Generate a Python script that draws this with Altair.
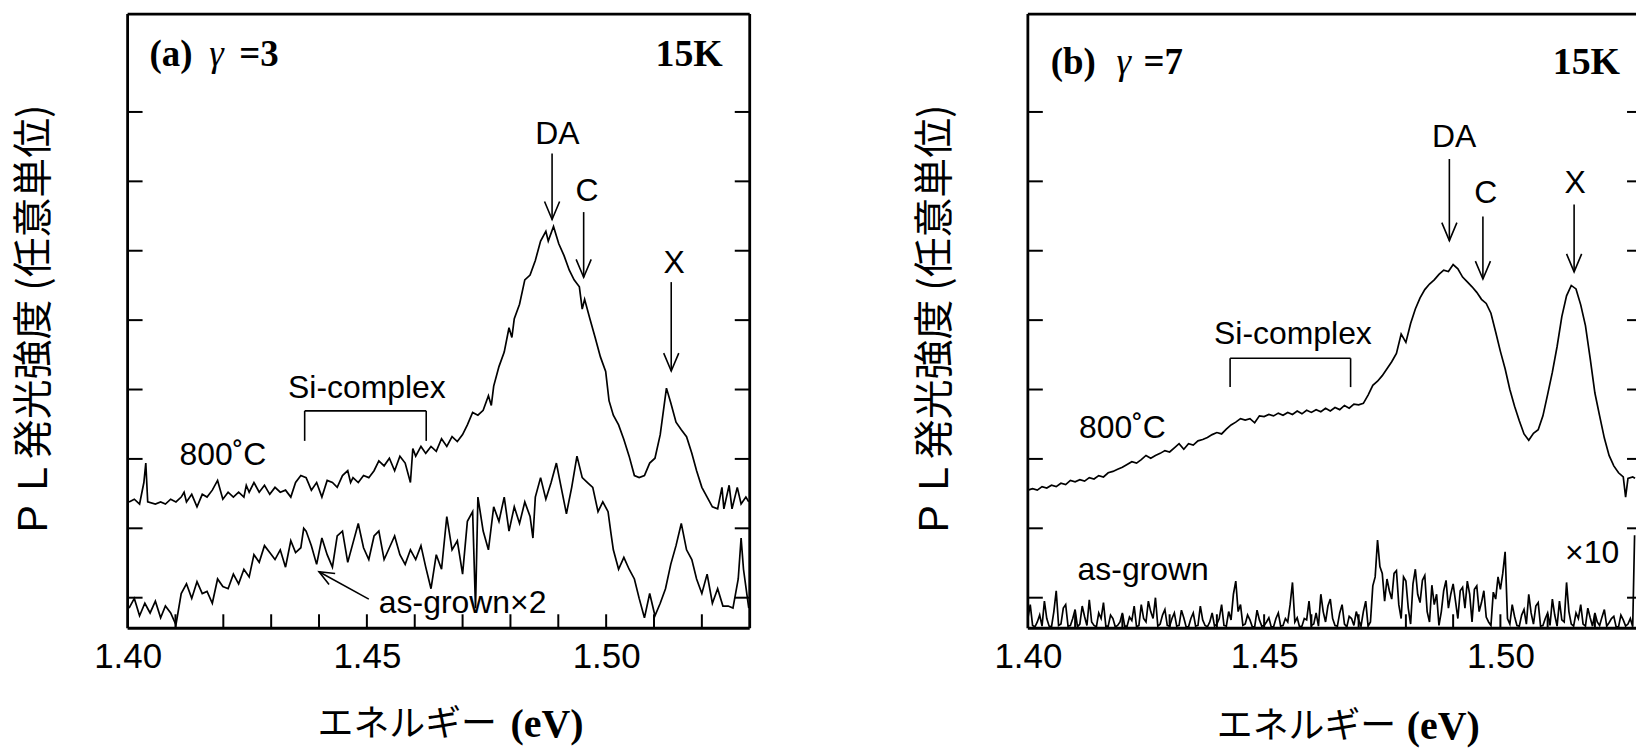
import altair as alt
import pandas as pd

# ---------------- axis values ----------------
ENERGY_TICK_LABELS = [1.40, 1.45, 1.50]
ENERGY_MINOR_TICKS = [1.41, 1.42, 1.43, 1.44, 1.45, 1.46, 1.47, 1.48, 1.49, 1.50, 1.51, 1.52]
INTENSITY_TICKS = [0, 1, 2, 3, 4, 5, 6, 7]
Y_DOMAIN = [-0.44, 8.41]
X_DOMAIN_A = [1.40, 1.53]
X_DOMAIN_B = [1.40, 1.5287]

# ---------------- panel (a) gamma = 3 : (energy eV, PL intensity a.u.) ----------------
A_800C = [
    (1.4003, 1.38), (1.4014, 1.42), (1.4025, 1.35), (1.4034, 1.66), (1.4038, 1.94), (1.4042, 1.38),
    (1.4058, 1.35), (1.4069, 1.38), (1.4079, 1.35), (1.4090, 1.42), (1.4101, 1.38), (1.4112, 1.45),
    (1.4118, 1.52), (1.4123, 1.38), (1.4134, 1.49), (1.4145, 1.31), (1.4156, 1.49), (1.4166, 1.45),
    (1.4177, 1.55), (1.4188, 1.69), (1.4199, 1.42), (1.4210, 1.52), (1.4221, 1.45), (1.4232, 1.52),
    (1.4243, 1.45), (1.4248, 1.62), (1.4254, 1.52), (1.4264, 1.66), (1.4275, 1.52), (1.4286, 1.62),
    (1.4297, 1.49), (1.4308, 1.59), (1.4319, 1.52), (1.4330, 1.55), (1.4341, 1.45), (1.4351, 1.66),
    (1.4362, 1.76), (1.4373, 1.73), (1.4384, 1.55), (1.4395, 1.66), (1.4406, 1.45), (1.4417, 1.69),
    (1.4428, 1.66), (1.4438, 1.59), (1.4449, 1.76), (1.4460, 1.83), (1.4466, 1.66), (1.4471, 1.73),
    (1.4482, 1.66), (1.4493, 1.76), (1.4504, 1.73), (1.4515, 1.83), (1.4525, 1.97), (1.4536, 1.90),
    (1.4547, 2.01), (1.4558, 1.83), (1.4569, 2.04), (1.4580, 1.94), (1.4591, 1.66), (1.4596, 2.15),
    (1.4602, 2.04), (1.4613, 2.18), (1.4623, 2.08), (1.4634, 2.18), (1.4645, 2.11), (1.4656, 2.29),
    (1.4667, 2.18), (1.4678, 2.32), (1.4689, 2.25), (1.4700, 2.35), (1.4710, 2.49), (1.4721, 2.67),
    (1.4732, 2.63), (1.4743, 2.70), (1.4754, 2.91), (1.4760, 2.77), (1.4765, 3.05), (1.4776, 3.33),
    (1.4787, 3.54), (1.4797, 3.89), (1.4803, 3.75), (1.4808, 4.02), (1.4819, 4.23), (1.4830, 4.58),
    (1.4841, 4.65), (1.4852, 4.86), (1.4863, 5.14), (1.4874, 5.28), (1.4879, 5.14), (1.4890, 5.35),
    (1.4901, 5.10), (1.4912, 4.93), (1.4923, 4.72), (1.4933, 4.58), (1.4944, 4.48), (1.4950, 4.16),
    (1.4955, 4.30), (1.4966, 4.02), (1.4977, 3.75), (1.4988, 3.47), (1.4999, 3.26), (1.5006, 2.84),
    (1.5015, 2.63), (1.5026, 2.49), (1.5037, 2.28), (1.5048, 2.04), (1.5059, 1.76), (1.5069, 1.73),
    (1.5080, 1.76), (1.5091, 1.94), (1.5102, 2.01), (1.5113, 2.35), (1.5126, 3.02), (1.5135, 2.81),
    (1.5146, 2.53), (1.5157, 2.42), (1.5168, 2.32), (1.5179, 2.08), (1.5189, 1.83), (1.5200, 1.59),
    (1.5211, 1.45), (1.5222, 1.31), (1.5233, 1.28), (1.5242, 1.59), (1.5246, 1.28), (1.5257, 1.62),
    (1.5263, 1.28), (1.5274, 1.59), (1.5282, 1.35), (1.5292, 1.45), (1.5298, 1.38),
]

A_ASGROWN = [
    (1.4003, -0.15), (1.4014, -0.01), (1.4025, -0.26), (1.4036, -0.08), (1.4047, -0.22), (1.4058, -0.05),
    (1.4069, -0.29), (1.4079, -0.12), (1.4090, -0.22), (1.4101, -0.39), (1.4112, 0.06), (1.4123, 0.20),
    (1.4134, -0.01), (1.4145, 0.23), (1.4156, 0.06), (1.4166, 0.09), (1.4177, -0.08), (1.4188, 0.27),
    (1.4199, 0.16), (1.4210, 0.13), (1.4221, 0.34), (1.4232, 0.20), (1.4243, 0.41), (1.4254, 0.30),
    (1.4264, 0.62), (1.4275, 0.51), (1.4286, 0.75), (1.4297, 0.65), (1.4308, 0.55), (1.4319, 0.69),
    (1.4330, 0.44), (1.4341, 0.82), (1.4351, 0.65), (1.4362, 0.72), (1.4368, 1.00), (1.4373, 0.96),
    (1.4384, 0.75), (1.4395, 0.48), (1.4406, 0.86), (1.4417, 0.62), (1.4428, 0.44), (1.4438, 0.89),
    (1.4449, 0.96), (1.4460, 0.51), (1.4471, 0.79), (1.4482, 1.07), (1.4493, 0.72), (1.4504, 0.55),
    (1.4515, 0.89), (1.4525, 0.96), (1.4536, 0.55), (1.4547, 0.72), (1.4558, 0.89), (1.4569, 0.62),
    (1.4580, 0.48), (1.4591, 0.69), (1.4602, 0.55), (1.4613, 0.75), (1.4623, 0.44), (1.4634, 0.13),
    (1.4645, 0.62), (1.4656, 0.41), (1.4667, 1.17), (1.4678, 0.69), (1.4689, 0.82), (1.4700, 0.34),
    (1.4710, 1.10), (1.4721, 1.24), (1.4727, -0.15), (1.4732, 1.45), (1.4743, 0.96), (1.4754, 0.69),
    (1.4765, 1.31), (1.4776, 1.10), (1.4787, 1.45), (1.4797, 0.96), (1.4808, 1.31), (1.4819, 1.07),
    (1.4830, 1.38), (1.4841, 1.17), (1.4847, 0.86), (1.4852, 1.45), (1.4863, 1.73), (1.4874, 1.42),
    (1.4885, 1.66), (1.4896, 1.94), (1.4906, 1.59), (1.4917, 1.21), (1.4928, 1.59), (1.4939, 2.04),
    (1.4950, 1.73), (1.4961, 1.66), (1.4972, 1.59), (1.4983, 1.24), (1.4993, 1.38), (1.5004, 1.24),
    (1.5010, 0.93), (1.5015, 0.69), (1.5026, 0.41), (1.5037, 0.58), (1.5048, 0.41), (1.5059, 0.27),
    (1.5069, -0.01), (1.5080, -0.29), (1.5091, 0.06), (1.5102, -0.26), (1.5113, -0.08), (1.5124, 0.13),
    (1.5135, 0.48), (1.5146, 0.75), (1.5157, 1.07), (1.5168, 0.69), (1.5179, 0.55), (1.5189, 0.27),
    (1.5200, 0.06), (1.5211, 0.34), (1.5222, -0.08), (1.5233, 0.13), (1.5244, -0.12), (1.5255, -0.12),
    (1.5265, -0.15), (1.5276, 0.27), (1.5282, 0.86), (1.5287, 0.41), (1.5298, -0.15),
]

# ---------------- panel (b) gamma = 7 ----------------
B_800C = [
    (1.400, 1.55), (1.401, 1.57), (1.402, 1.55), (1.403, 1.60), (1.404, 1.58), (1.405, 1.62),
    (1.406, 1.60), (1.407, 1.65), (1.408, 1.63), (1.409, 1.69), (1.410, 1.67), (1.411, 1.70),
    (1.412, 1.68), (1.413, 1.73), (1.414, 1.71), (1.415, 1.76), (1.416, 1.74), (1.417, 1.80),
    (1.418, 1.82), (1.419, 1.85), (1.420, 1.88), (1.421, 1.92), (1.422, 1.96), (1.423, 1.94),
    (1.424, 1.99), (1.425, 2.05), (1.426, 2.01), (1.427, 2.05), (1.428, 2.08), (1.429, 2.12),
    (1.430, 2.10), (1.431, 2.16), (1.432, 2.22), (1.433, 2.14), (1.434, 2.22), (1.435, 2.20),
    (1.436, 2.26), (1.437, 2.28), (1.438, 2.31), (1.439, 2.35), (1.440, 2.38), (1.441, 2.36),
    (1.442, 2.43), (1.443, 2.49), (1.444, 2.53), (1.445, 2.58), (1.446, 2.56), (1.447, 2.58),
    (1.448, 2.52), (1.449, 2.62), (1.450, 2.61), (1.451, 2.64), (1.452, 2.62), (1.453, 2.66),
    (1.454, 2.63), (1.455, 2.67), (1.456, 2.64), (1.457, 2.69), (1.458, 2.65), (1.459, 2.70),
    (1.460, 2.67), (1.461, 2.71), (1.462, 2.68), (1.463, 2.73), (1.464, 2.69), (1.465, 2.74),
    (1.466, 2.71), (1.467, 2.77), (1.468, 2.73), (1.469, 2.79), (1.470, 2.78), (1.471, 2.80),
    (1.472, 2.92), (1.473, 3.06), (1.474, 3.12), (1.475, 3.20), (1.476, 3.30), (1.477, 3.40),
    (1.478, 3.52), (1.479, 3.80), (1.480, 3.68), (1.481, 3.95), (1.482, 4.16), (1.483, 4.32),
    (1.484, 4.44), (1.485, 4.52), (1.486, 4.58), (1.487, 4.66), (1.488, 4.72), (1.489, 4.70),
    (1.490, 4.80), (1.491, 4.74), (1.492, 4.62), (1.493, 4.55), (1.494, 4.48), (1.495, 4.40),
    (1.496, 4.30), (1.497, 4.24), (1.498, 4.10), (1.499, 3.83), (1.500, 3.55), (1.501, 3.30),
    (1.502, 3.00), (1.503, 2.76), (1.504, 2.55), (1.505, 2.36), (1.506, 2.27), (1.507, 2.37),
    (1.508, 2.42), (1.509, 2.62), (1.510, 2.93), (1.511, 3.25), (1.512, 3.62), (1.513, 4.05),
    (1.514, 4.35), (1.515, 4.50), (1.516, 4.45), (1.517, 4.22), (1.518, 3.92), (1.519, 3.45),
    (1.520, 2.95), (1.521, 2.62), (1.522, 2.30), (1.523, 2.05), (1.524, 1.90), (1.525, 1.80),
    (1.526, 1.74), (1.5265, 1.45), (1.527, 1.72), (1.528, 1.74), (1.5285, 1.72),
]

B_ASGROWN = [
    (1.400, -0.30), (1.401, -0.40), (1.402, -0.35), (1.403, -0.41), (1.404, -0.30), (1.405, -0.42),
    (1.406, 0.10), (1.407, -0.38), (1.408, -0.10), (1.409, -0.40), (1.410, -0.17), (1.411, -0.38),
    (1.412, -0.27), (1.413, -0.03), (1.414, -0.40), (1.415, -0.22), (1.416, -0.07), (1.417, -0.41),
    (1.418, -0.30), (1.419, -0.40), (1.420, -0.22), (1.421, -0.41), (1.422, -0.33), (1.423, -0.42),
    (1.424, -0.10), (1.425, -0.35), (1.426, -0.20), (1.427, 0.00), (1.428, -0.38), (1.429, -0.17),
    (1.430, -0.41), (1.431, -0.22), (1.432, -0.40), (1.433, -0.29), (1.434, -0.42), (1.435, -0.22),
    (1.436, -0.40), (1.437, -0.32), (1.438, -0.42), (1.439, -0.22), (1.440, -0.38), (1.441, -0.10),
    (1.442, -0.41), (1.443, -0.32), (1.444, 0.24), (1.445, -0.10), (1.446, -0.38), (1.447, -0.32),
    (1.448, -0.42), (1.449, -0.32), (1.450, -0.40), (1.451, -0.29), (1.452, -0.42), (1.453, -0.22),
    (1.454, -0.40), (1.455, -0.35), (1.456, 0.22), (1.457, -0.29), (1.458, -0.41), (1.459, -0.32),
    (1.460, -0.40), (1.461, -0.22), (1.462, 0.05), (1.463, -0.35), (1.464, -0.02), (1.465, -0.40),
    (1.466, -0.22), (1.467, -0.38), (1.468, -0.27), (1.469, -0.40), (1.470, -0.32), (1.471, -0.20),
    (1.472, -0.41), (1.473, 0.17), (1.474, 0.83), (1.475, 0.35), (1.476, 0.27), (1.477, -0.02),
    (1.478, 0.39), (1.479, -0.30), (1.480, 0.24), (1.481, -0.38), (1.482, 0.41), (1.483, -0.07),
    (1.484, 0.32), (1.485, -0.35), (1.486, -0.10), (1.487, -0.40), (1.488, 0.10), (1.489, -0.15),
    (1.490, 0.20), (1.491, -0.30), (1.492, 0.15), (1.493, 0.24), (1.494, -0.35), (1.495, 0.17),
    (1.496, -0.07), (1.497, -0.28), (1.498, -0.40), (1.499, -0.02), (1.500, 0.12), (1.501, 0.66),
    (1.502, -0.38), (1.503, -0.27), (1.504, -0.41), (1.505, -0.17), (1.506, 0.05), (1.507, -0.38),
    (1.508, -0.07), (1.509, -0.40), (1.510, -0.22), (1.511, -0.02), (1.512, -0.41), (1.513, -0.32),
    (1.514, 0.22), (1.515, -0.38), (1.516, -0.22), (1.517, -0.10), (1.518, -0.41), (1.519, -0.29),
    (1.520, -0.22), (1.521, -0.40), (1.522, -0.17), (1.523, -0.36), (1.524, -0.27), (1.525, -0.42),
    (1.526, -0.32), (1.527, -0.38), (1.528, -0.42), (1.5284, 0.90),
]

# finer as-grown samples read between the points above
B_ASGROWN_FINE = [
    (1.4005, -0.10), (1.4015, -0.42), (1.4025, -0.25), (1.4035, -0.05), (1.4045, -0.41), (1.4055, -0.20),
    (1.4065, -0.40), (1.4075, -0.15), (1.4085, -0.41), (1.4095, -0.30), (1.4105, -0.42), (1.4115, -0.12),
    (1.4125, -0.40), (1.4135, -0.35), (1.4145, -0.42), (1.4155, -0.30), (1.4165, -0.41), (1.4175, -0.25),
    (1.4185, -0.42), (1.4195, -0.35), (1.4205, -0.41), (1.4215, -0.28), (1.4225, -0.12), (1.4235, -0.40),
    (1.4245, -0.30), (1.4255, -0.05), (1.4265, -0.30), (1.4275, -0.41), (1.4285, -0.25), (1.4295, -0.40),
    (1.4305, -0.30), (1.4315, -0.41), (1.4325, -0.18), (1.4335, -0.42), (1.4345, -0.30), (1.4355, -0.41),
    (1.4365, -0.12), (1.4375, -0.40), (1.4385, -0.35), (1.4395, -0.41), (1.4405, -0.30), (1.4415, -0.40),
    (1.4425, -0.20), (1.4435, 0.05), (1.4445, -0.20), (1.4455, -0.40), (1.4465, -0.25), (1.4475, -0.42),
    (1.4485, -0.18), (1.4495, -0.41), (1.4505, -0.35), (1.4515, -0.42), (1.4525, -0.30), (1.4535, -0.41),
    (1.4545, -0.30), (1.4555, -0.10), (1.4565, -0.35), (1.4575, -0.42), (1.4585, -0.30), (1.4595, -0.05),
    (1.4605, -0.38), (1.4615, -0.41), (1.4625, -0.20), (1.4635, -0.12), (1.4645, -0.30), (1.4655, -0.41),
    (1.4665, -0.10), (1.4675, -0.42), (1.4685, -0.30), (1.4695, -0.20), (1.4705, -0.41), (1.4715, -0.05),
    (1.4725, -0.35), (1.4735, 0.30), (1.4745, 0.45), (1.4755, -0.05), (1.4765, 0.10), (1.4775, 0.35),
    (1.4785, -0.10), (1.4795, 0.30), (1.4805, -0.15), (1.4815, 0.20), (1.4825, 0.05), (1.4835, 0.25),
    (1.4845, -0.20), (1.4855, 0.18), (1.4865, 0.05), (1.4875, -0.20), (1.4885, 0.25), (1.4895, 0.05),
    (1.4905, -0.05), (1.4915, 0.10), (1.4925, -0.15), (1.4935, 0.05), (1.4945, 0.12), (1.4955, -0.20),
    (1.4965, 0.10), (1.4975, -0.35), (1.4985, 0.08), (1.4995, 0.30), (1.5005, 0.35), (1.5015, -0.30),
    (1.5025, -0.10), (1.5035, -0.40), (1.5045, -0.25), (1.5055, -0.38), (1.5065, -0.22), (1.5075, -0.12),
    (1.5085, -0.41), (1.5095, -0.30), (1.5105, -0.40), (1.5115, -0.25), (1.5125, -0.05), (1.5135, -0.35),
    (1.5145, -0.20), (1.5155, -0.41), (1.5165, -0.30), (1.5175, -0.38), (1.5185, -0.15), (1.5195, -0.41),
    (1.5205, -0.35), (1.5215, -0.28), (1.5225, -0.41), (1.5235, -0.30), (1.5245, -0.42), (1.5255, -0.25),
    (1.5265, -0.41), (1.5275, -0.30),
]

# ---------------- annotations (energy, intensity) ----------------
A_LABELS = [("DA", 1.4898, 6.686), ("C", 1.4960, 5.867), ("X", 1.5142, 4.825),
            ("Si-complex", 1.4500, 3.022), ("800˚C", 1.4199, 2.06)]
A_LEFT_LABELS = [("as-grown×2", 1.4525, -0.08)]
A_ARROWS = [(1.4887, 6.40, 5.45), (1.4953, 5.557, 4.617), (1.5136, 4.548, 3.266)]
A_DIAG_ARROW = [(1.4504, -0.02, 1.4400, 0.373)]
A_BRACKET = [(1.4370, 1.4624, 2.692, 2.26)]

B_LABELS = [("DA", 1.4902, 6.634), ("C", 1.4969, 5.838), ("X", 1.5158, 5.976),
            ("Si-complex", 1.4561, 3.796), ("800˚C", 1.4200, 2.447),
            ("as-grown", 1.4244, 0.405), ("×10", 1.5194, 0.647)]
B_ARROWS = [(1.4892, 6.322, 5.146), (1.4963, 5.492, 4.592), (1.5156, 5.665, 4.696)]
B_BRACKET = [(1.4428, 1.4683, 3.45, 3.035)]

X_TITLE = "エネルギー"
X_UNIT = "(eV)"
Y_TITLE = "ＰＬ発光強度 (任意単位)"

W_A, W_B, H = 624, 610, 616
BLACK = "black"
SANS = "Liberation Sans"
SERIF = "Liberation Serif"
CJK = "Noto Sans CJK JP"
ARROW_PATH = "M -0.42 -1 L 0 0 L 0.42 -1"
ONE = pd.DataFrame({"k": [0]})


def curve_df(named):
    rows = []
    for name, pairs in named:
        for e, i in pairs:
            rows.append({"E": e, "I": i, "series": name})
    return pd.DataFrame(rows).sort_values(["series", "E"])


def panel(xdom, width, curves, labels, left_labels, arrows, diag, bracket,
          tag, tag_x, tag_base, k_right, right_frame, right_tick, xtitle_x, xtitle_y, unit_x):
    xs = alt.Scale(domain=xdom, nice=False, zero=False)
    ys = alt.Scale(domain=Y_DOMAIN, nice=False, zero=False)
    x_axis = alt.Axis(values=ENERGY_TICK_LABELS, format=".2f", labelFont=SANS, labelFontSize=35,
                      labelColor=BLACK, labelPadding=11, labelFlush=False, labelOverlap=False,
                      ticks=False, domain=False, grid=False,
                      title=X_TITLE, titleFont=CJK, titleFontSize=36, titleFontWeight="normal",
                      titleColor=BLACK, titleX=xtitle_x, titleY=xtitle_y, titleAlign="center",
                      titleBaseline="middle")
    y_axis = alt.Axis(labels=False, ticks=False, domain=False, grid=False,
                      title=Y_TITLE, titleFont=CJK, titleFontSize=40, titleFontWeight="normal",
                      titleColor=BLACK, titleX=-93, titleY=H / 2, titleAngle=270,
                      titleAlign="center", titleBaseline="middle")

    def X(f):
        return alt.X(f, scale=xs, axis=x_axis)

    def Y(f):
        return alt.Y(f, scale=ys, axis=y_axis)

    layers = []
    layers.append(alt.Chart(curve_df(curves)).mark_line(color=BLACK, strokeWidth=1.7).encode(
        x=X("E:Q"), y=Y("I:Q"), detail="series:N"))

    # frame
    fw = 2.8
    layers.append(alt.Chart(ONE).mark_rule(color=BLACK, strokeWidth=fw).encode(
        x=alt.value(0), x2=alt.value(width), y=alt.value(0)))
    layers.append(alt.Chart(ONE).mark_rule(color=BLACK, strokeWidth=fw).encode(
        x=alt.value(0), x2=alt.value(width), y=alt.value(H)))
    layers.append(alt.Chart(ONE).mark_rule(color=BLACK, strokeWidth=fw).encode(
        x=alt.value(0), y=alt.value(0), y2=alt.value(H)))
    if right_frame:
        layers.append(alt.Chart(ONE).mark_rule(color=BLACK, strokeWidth=fw).encode(
            x=alt.value(width), y=alt.value(0), y2=alt.value(H)))

    # inward ticks
    yt = pd.DataFrame({"v": INTENSITY_TICKS})
    xt = pd.DataFrame({"v": ENERGY_MINOR_TICKS})
    layers.append(alt.Chart(yt).mark_rule(color=BLACK, strokeWidth=2).encode(
        y=Y("v:Q"), x=alt.value(0), x2=alt.value(15)))
    layers.append(alt.Chart(yt).mark_rule(color=BLACK, strokeWidth=2).encode(
        y=Y("v:Q"), x=alt.value(width - right_tick), x2=alt.value(width)))
    layers.append(alt.Chart(xt).mark_rule(color=BLACK, strokeWidth=2).encode(
        x=X("v:Q"), y=alt.value(H - 14), y2=alt.value(H)))

    # arrows
    adf = pd.DataFrame(arrows, columns=["E", "top", "tip"])
    layers.append(alt.Chart(adf).mark_rule(color=BLACK, strokeWidth=1.6).encode(
        x=X("E:Q"), y=Y("top:Q"), y2=alt.Y2("tip:Q")))
    layers.append(alt.Chart(adf).mark_point(shape=ARROW_PATH, filled=False, stroke=BLACK,
                                            strokeWidth=1.6, size=1296, opacity=1).encode(
        x=X("E:Q"), y=Y("tip:Q")))
    if diag:
        ddf = pd.DataFrame(diag, columns=["E1", "I1", "E2", "I2"])
        layers.append(alt.Chart(ddf).mark_rule(color=BLACK, strokeWidth=1.6).encode(
            x=X("E1:Q"), x2=alt.X2("E2:Q"), y=Y("I1:Q"), y2=alt.Y2("I2:Q")))
        layers.append(alt.Chart(ddf).mark_point(shape=ARROW_PATH, filled=False, stroke=BLACK,
                                                strokeWidth=1.6, size=900, opacity=1,
                                                angle=119).encode(
            x=X("E2:Q"), y=Y("I2:Q")))

    # Si-complex bracket
    bdf = pd.DataFrame(bracket, columns=["E1", "E2", "top", "leg"])
    layers.append(alt.Chart(bdf).mark_rule(color=BLACK, strokeWidth=1.6).encode(
        x=X("E1:Q"), x2=alt.X2("E2:Q"), y=Y("top:Q")))
    layers.append(alt.Chart(bdf).mark_rule(color=BLACK, strokeWidth=1.6).encode(
        x=X("E1:Q"), y=Y("top:Q"), y2=alt.Y2("leg:Q")))
    layers.append(alt.Chart(bdf).mark_rule(color=BLACK, strokeWidth=1.6).encode(
        x=X("E2:Q"), y=Y("top:Q"), y2=alt.Y2("leg:Q")))

    # labels
    ldf = pd.DataFrame(labels, columns=["text", "E", "I"])
    layers.append(alt.Chart(ldf).mark_text(font=SANS, fontSize=32, color=BLACK, align="center",
                                           baseline="middle").encode(
        x=X("E:Q"), y=Y("I:Q"), text="text:N"))
    if left_labels:
        lldf = pd.DataFrame(left_labels, columns=["text", "E", "I"])
        layers.append(alt.Chart(lldf).mark_text(font=SANS, fontSize=32, color=BLACK, align="left",
                                                baseline="middle").encode(
            x=X("E:Q"), y=Y("I:Q"), text="text:N"))

    # panel tag "(a)  γ =3" and "15K"
    for (txt, style), xpos in zip(tag, tag_x):
        layers.append(alt.Chart(ONE).mark_text(
            text=txt, font=SERIF, fontSize=37, color=BLACK, align="left", baseline="alphabetic",
            fontWeight="normal" if style == "italic" else "bold",
            fontStyle="italic" if style == "italic" else "normal").encode(
            x=alt.value(xpos), y=alt.value(tag_base)))
    layers.append(alt.Chart(ONE).mark_text(
        text="15K", font=SERIF, fontSize=38, fontWeight="bold", color=BLACK, align="right",
        baseline="alphabetic").encode(x=alt.value(k_right), y=alt.value(tag_base)))

    # unit part of the x-axis title, set in bold serif as in the original
    layers.append(alt.Chart(ONE).mark_text(
        text=X_UNIT, font=SERIF, fontSize=40, fontWeight="bold", color=BLACK, align="left",
        baseline="middle").encode(x=alt.value(unit_x), y=alt.value(H + xtitle_y)))

    return alt.layer(*layers).properties(width=width, height=H)


pa = panel(X_DOMAIN_A, W_A, [("800C", A_800C), ("as-grown x2", A_ASGROWN)],
           A_LABELS, A_LEFT_LABELS, A_ARROWS, A_DIAG_ARROW, A_BRACKET,
           [("(a)", "bold"), ("γ", "italic"), ("=3", "bold")], [22, 82, 112], 52, 597,
           True, 15, 280, 97, 384)
pb = panel(X_DOMAIN_B, W_B, [("800C", B_800C), ("as-grown x10", B_ASGROWN + B_ASGROWN_FINE)],
           B_LABELS, [], B_ARROWS, [], B_BRACKET,
           [("(b)", "bold"), ("γ", "italic"), ("=7", "bold")], [23, 89, 116], 60, 594,
           False, 9, 279, 99, 380)

chart = alt.hconcat(pa, pb, spacing=279, bounds="flush").properties(
    padding={"left": 15, "top": 11, "right": 0, "bottom": 6}, background="white"
).configure_view(stroke=None)

chart.save("out.html", embed_options={"renderer": "svg", "actions": False})
